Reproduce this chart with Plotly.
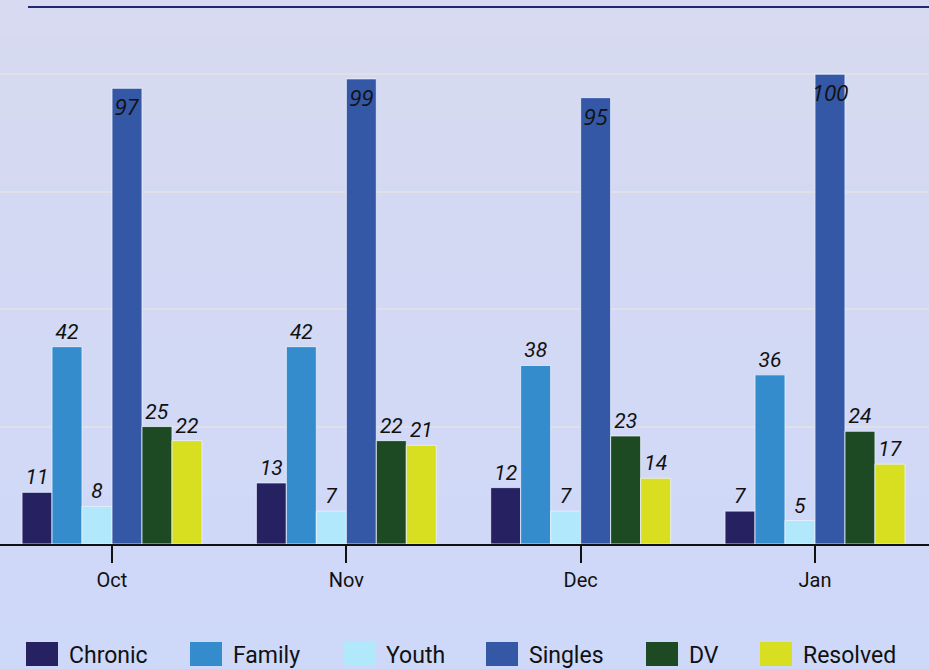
import base64, struct, zlib
import plotly.graph_objects as go

# ---- data ----
months = ["Oct", "Nov", "Dec", "Jan"]
series_names = ["Chronic", "Family", "Youth", "Singles", "DV", "Resolved"]
chronic = [11, 13, 12, 7]
family = [42, 42, 38, 36]
youth = [8, 7, 7, 5]
singles = [97, 99, 95, 100]
dv = [25, 22, 23, 24]
resolved = [22, 21, 14, 17]
series_values = [chronic, family, youth, singles, dv, resolved]

# ---- styles ----
colors = ["#262262", "#348ccd", "#b2e8fb", "#3457a6", "#1e4a23", "#d8df20"]
legend_x_px = [26, 190, 343, 486, 646, 760]

W, H = 929, 669
ML, MR, MT, MB = 0, 0, 7, 125
plot_h = H - MT - MB


def py2paper(py):
    return (H - MB - py) / plot_h


def gradient_png(c0, c1, h):
    raw = b""
    for i in range(h):
        t = i / (h - 1)
        px = bytes(int(round(a + (b - a) * t)) for a, b in zip(c0, c1))
        raw += b"\x00" + px
    def chunk(tag, data):
        return (struct.pack(">I", len(data)) + tag + data +
                struct.pack(">I", zlib.crc32(tag + data) & 0xffffffff))
    png = b"\x89PNG\r\n\x1a\n"
    png += chunk(b"IHDR", struct.pack(">IIBBBBB", 1, h, 8, 2, 0, 0, 0))
    png += chunk(b"IDAT", zlib.compress(raw))
    png += chunk(b"IEND", b"")
    return "data:image/png;base64," + base64.b64encode(png).decode()


fig = go.Figure()
for name, vals, col in zip(series_names, series_values, colors):
    inside = name == "Singles"
    fig.add_trace(go.Bar(
        name=name, x=months, y=vals,
        marker=dict(color=col, line=dict(color="rgba(235,240,255,0.8)", width=1)),
        text=vals, texttemplate="%{y}",
        textposition="inside" if inside else "outside",
        insidetextanchor="end",
        constraintext="none",
        textangle=0,
        cliponaxis=False,
        textfont=dict(family="Open Sans" if inside else "Roboto", size=22 if inside else 21,
                      style="italic", color="#111111"),
        showlegend=False,
    ))

shapes = []
annotations = []
for name, col, xp in zip(series_names, colors, legend_x_px):
    shapes.append(dict(type="rect", xref="paper", yref="paper",
                       x0=xp / W, x1=(xp + 32) / W,
                       y0=py2paper(666), y1=py2paper(642),
                       fillcolor=col, line=dict(width=0)))
    annotations.append(dict(text=name, xref="paper", yref="paper",
                            x=(xp + 41) / W, y=py2paper(655),
                            xanchor="left", yanchor="middle", showarrow=False,
                            font=dict(family="Roboto", size=23, color="#111111")))

# top rule
shapes.append(dict(type="line", xref="paper", yref="paper",
                   x0=28 / W, x1=1, y0=1, y1=1,
                   line=dict(color="#1c2a6e", width=2)))

cat_px = 234.33
x0 = -112 / cat_px
fig.update_layout(
    width=W, height=H,
    margin=dict(l=ML, r=MR, t=MT, b=MB),
    paper_bgcolor="#d3d9f5",
    plot_bgcolor="rgba(0,0,0,0)",
    barmode="group", bargap=0.232, bargroupgap=0,
    showlegend=False,
    shapes=shapes, annotations=annotations,
    images=[dict(source=gradient_png((215, 218, 240), (206, 216, 249), 64),
                 xref="paper", yref="paper", x=0, y=py2paper(0),
                 sizex=1, sizey=py2paper(0) - py2paper(H),
                 xanchor="left", yanchor="top", sizing="stretch", layer="below")],
    xaxis=dict(range=[x0, x0 + W / cat_px], showgrid=False,
               showline=True, linecolor="#111111", linewidth=2,
               ticks="outside", ticklen=17, tickwidth=2, tickcolor="#111111",
               tickfont=dict(family="Roboto", size=20, color="#111111"),
               fixedrange=True),
    yaxis=dict(range=[0, 114.3], dtick=25, showticklabels=False,
               showgrid=True, gridcolor="#dfe0e8", gridwidth=2,
               zeroline=False, showline=False, ticks="", fixedrange=True),
)

fig.write_html("out.html",
               config={"displayModeBar": False},
               post_script="document.body.style.margin='0';document.body.style.overflow='hidden';")
